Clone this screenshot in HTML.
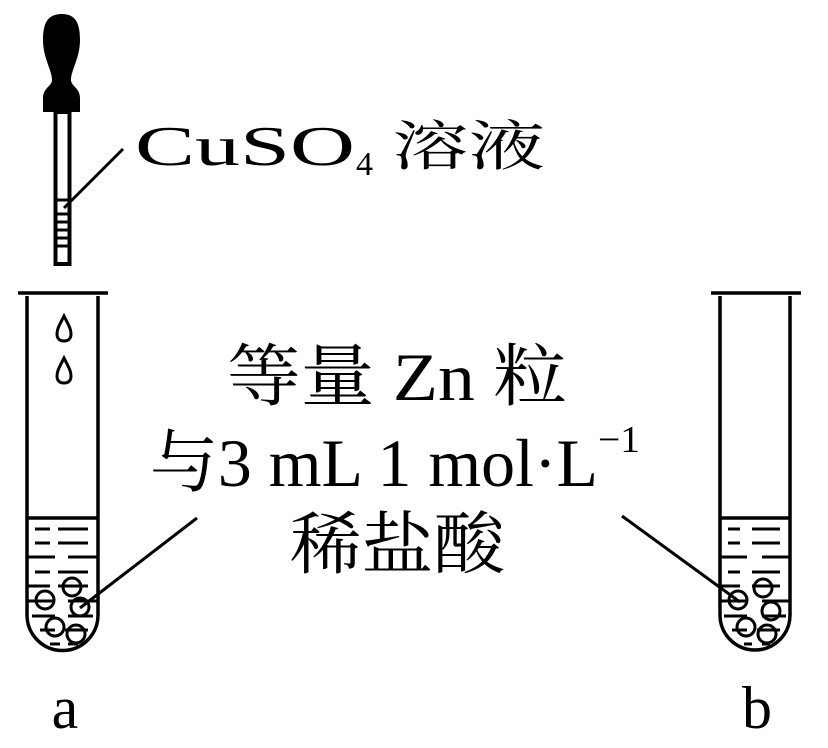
<!DOCTYPE html>
<html><head><meta charset="utf-8"><style>
html,body{margin:0;padding:0;background:#fff;}
svg{display:block}
text{font-family:"Liberation Serif","Noto Serif CJK SC",serif;fill:#000}
</style></head><body>
<svg width="828" height="748" viewBox="0 0 828 748" xmlns="http://www.w3.org/2000/svg">
<path d="M62 14 C47 14 43 24 43 40 C43 58 52 70 52 80 C52 86 43 88 43 98 L43 112 L80 112 L80 98 C80 88 71 86 71 80 C71 70 80 58 80 40 C80 24 76 14 62 14 Z" fill="#000"/>
<rect x="55.5" y="112" width="14" height="152" fill="none" stroke="#000" stroke-width="4"/>
<g stroke="#000" stroke-width="3">
<line x1="55" y1="200" x2="70" y2="200"/><line x1="55" y1="214" x2="70" y2="214"/>
<line x1="55" y1="222" x2="70" y2="222"/><line x1="55" y1="230" x2="70" y2="230"/>
<line x1="55" y1="238" x2="70" y2="238"/><line x1="55" y1="246" x2="70" y2="246"/>
</g>
<line x1="123" y1="149" x2="64" y2="208" stroke="#000" stroke-width="3"/>
<text x="135" y="165" font-size="56" textLength="220" lengthAdjust="spacingAndGlyphs">CuSO</text>
<text x="356" y="175" font-size="34">4</text>
<text x="392" y="165" font-size="54" textLength="153" lengthAdjust="spacingAndGlyphs">溶液</text>

<g fill="none" stroke="#000" stroke-width="3.5">
<path d="M18 293 L108 293 M27 296 L27 615 A35 35 0 0 0 98 615 L98 296"/>
<line x1="27" y1="518" x2="98" y2="518"/>
<path d="M64 316 C59 326 57 329 57 334 C57 339 60 341 64 341 C68 341 71 339 71 334 C71 329 69 326 64 316 Z" stroke-width="3"/>
<path d="M64 358 C59 368 57 371 57 376 C57 381 60 383 64 383 C68 383 71 381 71 376 C71 371 69 368 64 358 Z" stroke-width="3"/>
</g>
<g stroke="#000" stroke-width="3">
<line x1="35" y1="529" x2="50" y2="529"/><line x1="58" y1="529" x2="88" y2="529"/>
<line x1="35" y1="543" x2="50" y2="543"/><line x1="58" y1="543" x2="88" y2="543"/>
<line x1="28" y1="557" x2="55" y2="557"/><line x1="68" y1="557" x2="97" y2="557"/>
<line x1="35" y1="572" x2="50" y2="572"/><line x1="58" y1="572" x2="88" y2="572"/>
<line x1="28" y1="586" x2="50" y2="586"/><line x1="58" y1="586" x2="88" y2="586"/>
<line x1="28" y1="601" x2="55" y2="601"/><line x1="68" y1="601" x2="97" y2="601"/>
<line x1="32" y1="616" x2="55" y2="616"/><line x1="68" y1="616" x2="93" y2="616"/>
<line x1="40" y1="630" x2="55" y2="630"/><line x1="65" y1="630" x2="88" y2="630"/>
<line x1="50" y1="644" x2="60" y2="644"/><line x1="68" y1="644" x2="78" y2="644"/>
</g>
<g fill="none" stroke="#000" stroke-width="3">
<circle cx="72" cy="587" r="9"/><circle cx="45" cy="600" r="9"/><circle cx="80" cy="607" r="9"/>
<circle cx="55" cy="627" r="9"/><circle cx="76" cy="634" r="9"/>
</g>
<line x1="197" y1="518" x2="80" y2="608" stroke="#000" stroke-width="3"/>

<g fill="none" stroke="#000" stroke-width="3.5">
<path d="M711 293 L801 293 M720 296 L720 615 A35 35 0 0 0 790 615 L790 296"/>
<line x1="720" y1="518" x2="790" y2="518"/>
</g>
<g stroke="#000" stroke-width="3">
<line x1="728" y1="529" x2="740" y2="529"/><line x1="752" y1="529" x2="780" y2="529"/>
<line x1="728" y1="543" x2="740" y2="543"/><line x1="752" y1="543" x2="780" y2="543"/>
<line x1="721" y1="557" x2="747" y2="557"/><line x1="762" y1="557" x2="789" y2="557"/>
<line x1="728" y1="572" x2="740" y2="572"/><line x1="752" y1="572" x2="780" y2="572"/>
<line x1="721" y1="586" x2="740" y2="586"/><line x1="752" y1="586" x2="780" y2="586"/>
<line x1="721" y1="601" x2="747" y2="601"/><line x1="762" y1="601" x2="789" y2="601"/>
<line x1="724" y1="616" x2="747" y2="616"/><line x1="762" y1="616" x2="786" y2="616"/>
<line x1="732" y1="630" x2="747" y2="630"/><line x1="757" y1="630" x2="780" y2="630"/>
<line x1="744" y1="644" x2="752" y2="644"/><line x1="762" y1="644" x2="770" y2="644"/>
</g>
<g fill="none" stroke="#000" stroke-width="3">
<circle cx="763" cy="588" r="9"/><circle cx="738" cy="600" r="9"/><circle cx="771" cy="611" r="9"/>
<circle cx="746" cy="627" r="9"/><circle cx="767" cy="634" r="9"/>
</g>
<line x1="622" y1="516" x2="740" y2="602" stroke="#000" stroke-width="3"/>

<text x="227" y="400" font-size="68" textLength="340" lengthAdjust="spacingAndGlyphs">等量 Zn 粒</text>
<text x="150" y="486" font-size="68" textLength="448" lengthAdjust="spacingAndGlyphs">与3 mL 1 mol·L</text>
<text x="598" y="452" font-size="38" textLength="42" lengthAdjust="spacingAndGlyphs">−1</text>
<text x="290" y="568" font-size="68" textLength="215" lengthAdjust="spacingAndGlyphs">稀盐酸</text>

<text x="65" y="728" font-size="60" text-anchor="middle">a</text>
<text x="757" y="728" font-size="60" text-anchor="middle">b</text>
</svg>
</body></html>
